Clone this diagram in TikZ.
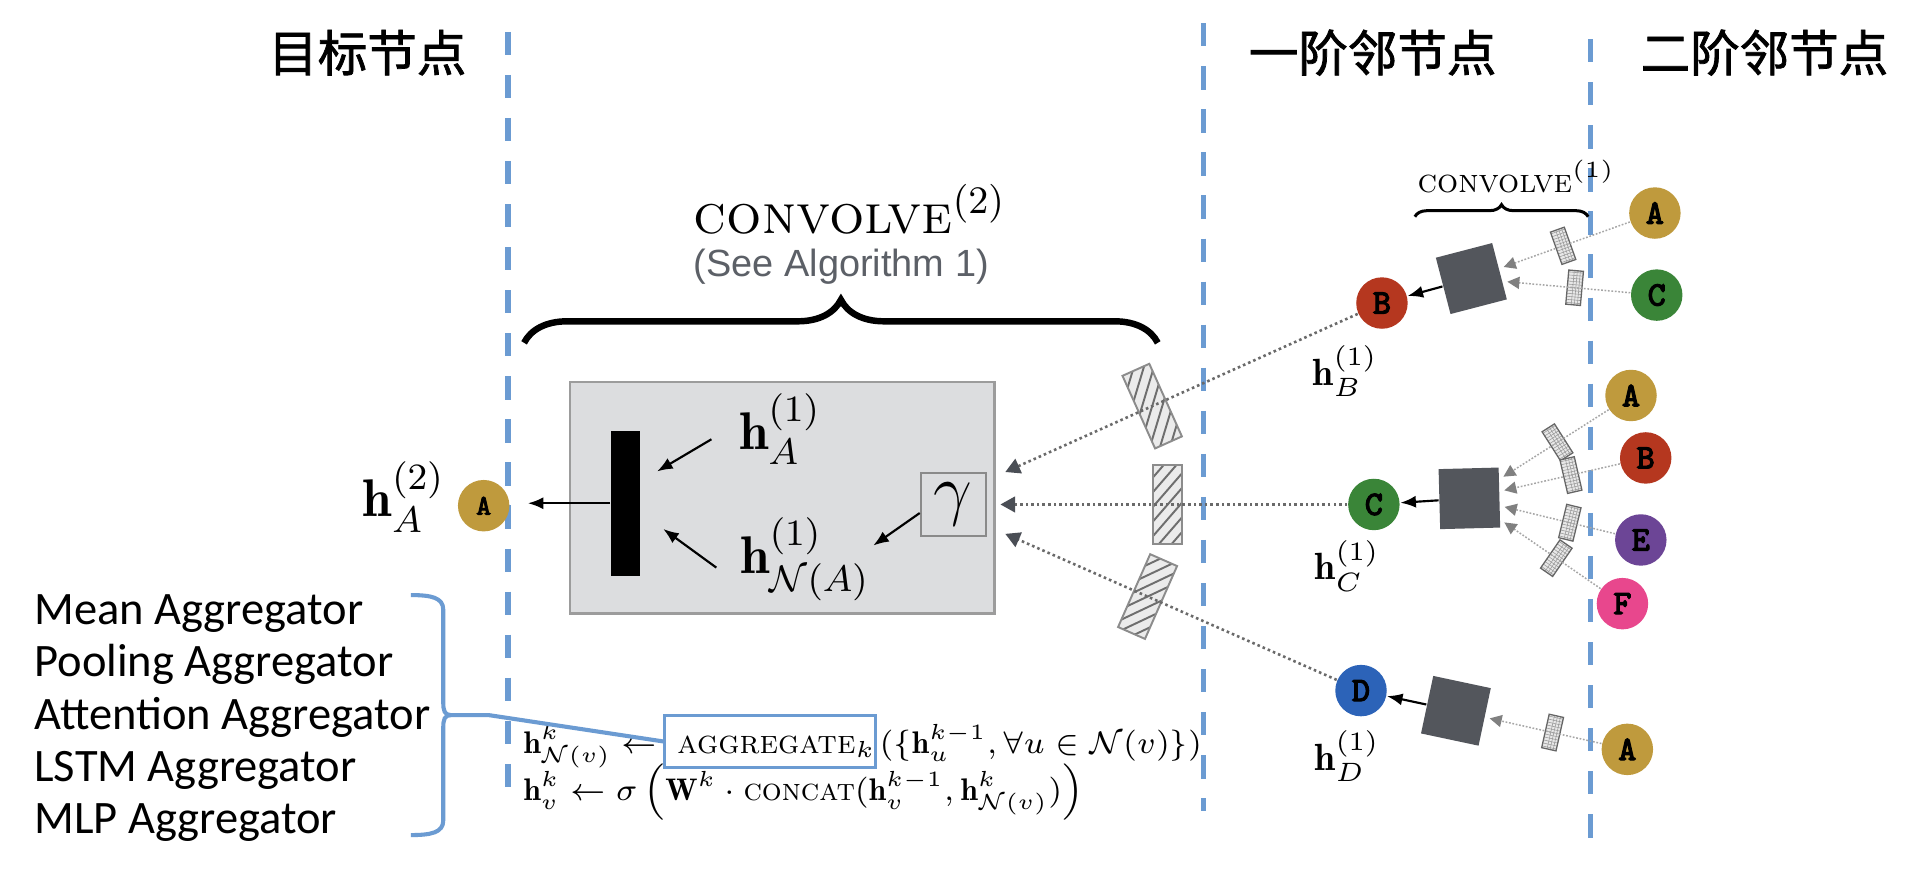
\documentclass[tikz,border=0pt]{standalone}
\usepackage{fix-cm}
\usepackage{amsmath,amssymb}
\usepackage{fontspec}
\newfontfamily\cjkfont[FakeBold=1.5]{Noto Sans CJK SC}
\newfontfamily\aggfont{Carlito}
\newfontfamily\algfont{Liberation Sans}
\newfontfamily\lettersfont[FakeBold=3]{Latin Modern Mono}
\usetikzlibrary{arrows.meta,decorations.pathreplacing,calc}
\definecolor{sepblue}{HTML}{6B9BD2}
\definecolor{cgold}{HTML}{BF9A3D}
\definecolor{cred}{HTML}{B5371F}
\definecolor{cgreen}{HTML}{3A8538}
\definecolor{cblue}{HTML}{2C63B8}
\definecolor{cpurple}{HTML}{6C4596}
\definecolor{cpink}{HTML}{E8478D}
\definecolor{sqgray}{HTML}{53565C}
\definecolor{boxgray}{HTML}{DCDDDF}
\definecolor{boxborder}{HTML}{9C9C9C}
\definecolor{gammaborder}{HTML}{8A8A8A}
\definecolor{hatchfill}{HTML}{EBEBEB}
\definecolor{hatchline}{HTML}{6E6E6E}
\definecolor{hatchborder}{HTML}{8C8C8C}
\definecolor{dotgray}{HTML}{6A6A6A}
\definecolor{tipgray}{HTML}{4A4E55}
\definecolor{alggray}{HTML}{5C6067}
\newcommand{\formulasize}{\fontsize{7.25}{9}\selectfont}
\newcommand{\hatchon}[3]{\path let \p1=($(#2)-(#1)$), \n1={atan2(\y1,\x1)} in pic[rotate=\n1] at ($(#1)!#3!(#2)$) {hatchbox};}
\newcommand{\gridon}[3]{\path let \p1=($(#2)-(#1)$), \n1={atan2(\y1,\x1)} in pic[rotate=\n1] at ($(#1)!#3!(#2)$) {gridbox};}
\tikzset{
  hatchbox/.pic={
    \fill[hatchfill] (-12,-32.5) rectangle (12,32.5);
    \begin{scope}
      \clip (-12,-32.5) rectangle (12,32.5);
      \foreach \k in {-84,-72,...,84} \draw[draw=hatchline, line width=0.45pt] (-13,{\k+15}) -- (13,{\k-15});
    \end{scope}
    \draw[draw=hatchborder, line width=0.45pt] (-12,-32.5) rectangle (12,32.5);
  },
  gridbox/.pic={
    \fill[gray!18] (-6,-14) rectangle (6,14);
    \begin{scope}
      \clip (-6,-14) rectangle (6,14);
      \foreach \k in {-3.5,-1,...,3.5} \draw[draw=gray!80, line width=0.13pt] (\k,-14) -- (\k,14);
      \foreach \k in {-12.5,-10,...,12.5} \draw[draw=gray!80, line width=0.13pt] (-6,\k) -- (6,\k);
    \end{scope}
    \draw[draw=gray!80!black, line width=0.3pt] (-6,-14) rectangle (6,14);
  }
}
\begin{document}
\begin{tikzpicture}[x=0.01cm,y=-0.01cm,
  vnode/.style={circle, inner sep=0pt, minimum size=4.2mm, font=\lettersfont\fontsize{8}{8}\selectfont},
  sqnode/.style={fill=sqgray, inner sep=0pt},
  sepline/.style={draw=sepblue, line width=1.25pt, dash pattern=on 5.4pt off 4.6pt},
  firstarrow/.style={draw=dotgray, line width=0.6pt, dash pattern=on 0.6pt off 0.7pt, -{Triangle[length=3.4pt,width=3.6pt,color=tipgray]}},
  secondarrow/.style={draw=gray!70, line width=0.35pt, dash pattern=on 0.4pt off 0.4pt, -{Triangle[length=2.8pt,width=2.8pt,color=gray]}, shorten >=1pt},
  blackarrow/.style={draw=black, line width=0.5pt, -{Latex[length=3.6pt,width=2.8pt]}},
  hlabel/.style={inner sep=0pt, anchor=base west},
  titletext/.style={inner sep=0pt, font=\cjkfont\fontsize{11.5}{13}\selectfont},
  aggtext/.style={anchor=base west, inner sep=0pt, font=\aggfont\fontsize{10.8}{12}\selectfont},
  aggline/.style={draw=sepblue, line width=0.95pt},
]
\useasboundingbox (0,0) rectangle (1568,710.5);
\fill[white] (0,0) rectangle (1568,710.5);

% titles
\node[titletext] (t1) at (300,43) {目标节点};
\node[titletext] (t2) at (1121,43) {一阶邻节点};
\node[titletext] (t3) at (1441,43) {二阶邻节点};

% separators
\coordinate (s1top) at (415,26);   \coordinate (s1bot) at (415,650);
\coordinate (s2top) at (983,19);   \coordinate (s2bot) at (983,662);
\coordinate (s3top) at (1299,32);  \coordinate (s3bot) at (1299,695);
\draw[sepline] (s1top) -- (s1bot);
\draw[sepline] (s2top) -- (s2bot);
\draw[sepline] (s3top) -- (s3bot);

% convolve (2)
\node[anchor=base west, inner sep=0pt, font=\fontsize{12.9}{15}\selectfont] (conv2) at (566,190.5) {\textsc{convolve}$^{(2)}$};
\node[anchor=base west, inner sep=0pt, font=\algfont\fontsize{8.8}{10}\selectfont, text=alggray] (alg) at (566,226) {(See Algorithm 1)};
\coordinate (br2l) at (428,280); \coordinate (br2r) at (945.5,280);
\draw[decorate, decoration={brace, amplitude=10pt}, line width=1.5pt] (br2l) -- (br2r);

% gray box
\node[draw=boxborder, fill=boxgray, line width=0.6pt, minimum width=3.465cm, minimum height=1.89cm, inner sep=0pt] (gbox) at (638.75,406.5) {};
\node[fill=black, minimum width=0.235cm, minimum height=1.18cm, inner sep=0pt] (bar) at (510.8,411) {};
\node[draw=gammaborder, line width=0.5pt, minimum width=0.53cm, minimum height=0.52cm, inner sep=0pt, font=\fontsize{16}{16}\selectfont] (gam) at (778.5,412) {$\gamma$};
\node[hlabel, font=\fontsize{12.3}{14}\selectfont] (hA1) at (603,367) {$\mathbf{h}_A^{(1)}$};
\node[hlabel, font=\fontsize{12.3}{14}\selectfont] (hNA) at (604,468) {$\mathbf{h}_{\mathcal{N}(A)}^{(1)}$};
\draw[blackarrow] ($(hA1.west)+(-22,8)$) -- ($(bar.east)+(13.4,-26)$);
\draw[blackarrow] ($(hNA.west)+(-19,7)$) -- ($(bar.east)+(18.4,21)$);
\draw[blackarrow] ($(gam.west)+(0,7)$) -- ($(hNA.east)+(2,-11)$);

% target node
\node[vnode, fill=cgold, font=\lettersfont\fontsize{6.6}{6.6}\selectfont] (tA) at (395,413) {A};
\node[hlabel, font=\fontsize{12.3}{14}\selectfont] (hA2) at (295.6,422) {$\mathbf{h}_A^{(2)}$};
\draw[blackarrow, shorten >=4.1pt] (bar.west) -- (bar.west -| tA.east);

% first-order nodes
\node[vnode, fill=cred] (B1) at (1128.6,247.5) {B};
\node[vnode, fill=cgreen] (C1) at (1122,412) {C};
\node[vnode, fill=cblue] (D1) at (1111.5,564) {D};
\node[hlabel, font=\fontsize{8.8}{10}\selectfont] (hB) at (1071.5,314.5) {$\mathbf{h}_B^{(1)}$};
\node[hlabel, font=\fontsize{8.8}{10}\selectfont] (hC) at (1073,473.6) {$\mathbf{h}_C^{(1)}$};
\node[hlabel, font=\fontsize{8.8}{10}\selectfont] (hD) at (1073,629) {$\mathbf{h}_D^{(1)}$};

\coordinate (tipB) at (821,385.5);
\coordinate (tipC) at (817,412);
\coordinate (tipD) at (821,436);
\hatchon{B1}{tipB}{0.61}
\hatchon{C1}{tipC}{0.552}
\hatchon{D1}{tipD}{0.60}
\draw[firstarrow] (B1) -- (tipB);
\draw[firstarrow] (C1) -- (tipC);
\draw[firstarrow] (D1) -- (tipD);

% aggregation squares
\node[sqnode, rotate=14.6, minimum size=4.75mm] (sqB) at (1201.6,227.5) {};
\node[sqnode, rotate=1.5, minimum size=4.9mm] (sqC) at (1200,407) {};
\node[sqnode, rotate=-12, minimum size=4.8mm] (sqD) at (1189,580.5) {};
\draw[blackarrow] (sqB) -- (B1);
\draw[blackarrow] (sqC) -- (C1);
\draw[blackarrow] (sqD) -- (D1);

% convolve (1)
\node[anchor=base west, inner sep=0pt, font=\fontsize{7.7}{9}\selectfont] (conv1) at (1157,157) {\textsc{convolve}$^{(1)}$};
\coordinate (br1l) at (1155.5,177); \coordinate (br1r) at (1297,177);
\draw[decorate, decoration={brace, amplitude=2.8pt}, line width=0.7pt] (br1l) -- (br1r);

% second-order nodes
\node[vnode, fill=cgold] (Ab) at (1351.5,174) {A};
\node[vnode, fill=cgreen] (Cb) at (1353,241) {C};
\node[vnode, fill=cgold] (Ac) at (1332,323) {A};
\node[vnode, fill=cred] (Bc) at (1344,374) {B};
\node[vnode, fill=cpurple] (Ec) at (1340,441) {E};
\node[vnode, fill=cpink] (Fc) at (1325,493) {F};
\node[vnode, fill=cgold] (Ad) at (1329,612) {A};

\gridon{Ab}{sqB}{0.50}
\gridon{Cb}{sqB}{0.443}
\gridon{Ac}{sqC}{0.455}
\gridon{Bc}{sqC}{0.424}
\gridon{Ec}{sqC}{0.414}
\gridon{Fc}{sqC}{0.432}
\gridon{Ad}{sqD}{0.436}
\draw[secondarrow] (Ab) -- (sqB);
\draw[secondarrow] (Cb) -- (sqB);
\draw[secondarrow] (Ac) -- (sqC);
\draw[secondarrow] (Bc) -- (sqC);
\draw[secondarrow] (Ec) -- (sqC);
\draw[secondarrow] (Fc) -- (sqC);
\draw[secondarrow] (Ad) -- (sqD);

% aggregator list
\node[aggtext] (m1) at (27.4,510) {Mean Aggregator};
\node[aggtext] (m2) at (27.4,552.7) {Pooling Aggregator};
\node[aggtext] (m3) at (27.4,595.4) {Attention Aggregator};
\node[aggtext] (m4) at (27.4,638.1) {LSTM Aggregator};
\node[aggtext] (m5) at (27.4,680.8) {MLP Aggregator};

% formulas
\node[draw=sepblue, line width=0.7pt, anchor=base west, inner sep=0pt, text height=8.8pt, text depth=3.4pt, font=\fontsize{7.7}{9}\selectfont] (aggbox) at (541.5,615) {\hspace*{3pt}\textsc{aggregate}$_k$};
\node[anchor=base east, inner sep=0pt, font=\formulasize] (f1a) at ([xshift=-1.2pt]aggbox.base west) {$\mathbf{h}^k_{\mathcal{N}(v)}\leftarrow$};
\node[anchor=base west, inner sep=0pt, font=\formulasize] (f1c) at ([xshift=0.4pt]aggbox.base east) {$(\{\mathbf{h}^{k-1}_u,\forall u\in\mathcal{N}(v)\})$};
\path (f1a.base west) ++(0,38.5) coordinate (f2base);
\node[anchor=base west, inner sep=0pt, font=\formulasize] (f2) at (f2base) {$\mathbf{h}^k_v\leftarrow\sigma\,\Big(\mathbf{W}^k\cdot\text{\textsc{concat}}(\mathbf{h}^{k-1}_v,\mathbf{h}^k_{\mathcal{N}(v)})\Big)$};

% bracket
\draw[aggline] (335.5,486) .. controls (352,486) and (362,488) .. (362,498) -- (362,574) .. controls (362,580) and (363,584) .. (368,584) -- (399,584) -- (aggbox.west);
\draw[aggline] (368,584) .. controls (363,584) and (362,588) .. (362,594) -- (362,670) .. controls (362,680) and (352,682) .. (335.5,682);
\end{tikzpicture}
\end{document}
